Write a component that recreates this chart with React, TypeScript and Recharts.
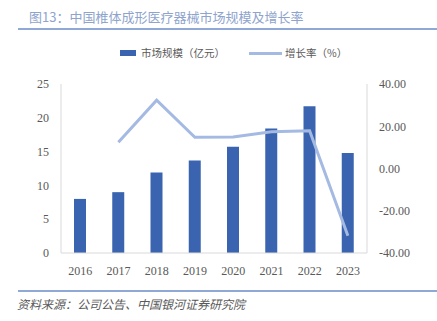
import {
  ComposedChart,
  Bar,
  Line,
  XAxis,
  YAxis,
} from 'recharts'

const BAR_BLUE = '#3A64AF'
const LINE_BLUE = '#A4BAE3'
const AXIS_GRAY = '#D9D9D9'
const TEXT_GRAY = '#595959'
const TITLE_BLUE = '#8EA4CD'

const years = ['2016', '2017', '2018', '2019', '2020', '2021', '2022', '2023']
const marketSize = [8.0, 9.0, 11.9, 13.7, 15.7, 18.4, 21.7, 14.8]
const growthRate = [null, 12.4, 32.3, 14.8, 14.9, 17.4, 17.9, -31.8]
const leftTicks = [0, 5, 10, 15, 20, 25]
const rightTicks = [-40, -20, 0, 20, 40]

const data = years.map((year, i) => ({
  year,
  size: marketSize[i],
  growth: growthRate[i],
}))

const CJK = '"Noto Sans CJK SC", "Noto Sans", sans-serif'
const NUM = '"Liberation Serif", "Times New Roman", serif'

function ChartLegend() {
  return (
    <div
      style={{
        position: 'absolute',
        left: 120,
        top: 46,
        display: 'flex',
        alignItems: 'center',
        fontFamily: CJK,
        fontSize: 10.5,
        color: TEXT_GRAY,
        lineHeight: '14px',
        whiteSpace: 'nowrap',
      }}
    >
      <span style={{ display: 'inline-block', width: 16, height: 6, background: BAR_BLUE, marginRight: 5 }} />
      <span>市场规模（亿元）</span>
      <span
        style={{ display: 'inline-block', width: 33, height: 3, background: LINE_BLUE, marginLeft: 24, marginRight: 3 }}
      />
      <span>增长率（%）</span>
    </div>
  )
}

export default function App() {
  return (
    <div
      style={{
        position: 'absolute',
        left: 0,
        top: 0,
        width: 437,
        height: 321,
        background: '#ffffff',
        overflow: 'hidden',
      }}
    >
      <div
        style={{
          position: 'absolute',
          left: 29,
          top: 8,
          fontFamily: CJK,
          fontSize: 13,
          lineHeight: '18px',
          color: TITLE_BLUE,
          whiteSpace: 'nowrap',
        }}
      >
        图13：中国椎体成形医疗器械市场规模及增长率
      </div>
      <div style={{ position: 'absolute', left: 18, top: 28, width: 419, height: 1.5, background: '#8FA8D6' }} />

      <div style={{ position: 'absolute', left: 0, top: 0 }}>
        <ComposedChart
          width={437}
          height={321}
          data={data}
          margin={{ top: 84, right: 0, bottom: 38, left: 0 }}
        >
          <XAxis
            dataKey="year"
            axisLine={{ stroke: AXIS_GRAY }}
            tickLine={false}
            tickSize={0}
            tickMargin={13}
            height={30}
            tick={{ fontSize: 12, fill: TEXT_GRAY, fontFamily: NUM }}
          />
          <YAxis
            yAxisId="left"
            orientation="left"
            domain={[0, 25]}
            ticks={leftTicks}
            width={61}
            axisLine={{ stroke: AXIS_GRAY }}
            tickLine={false}
            tickSize={0}
            tickMargin={12}
            tick={{ fontSize: 12, fill: TEXT_GRAY, fontFamily: NUM }}
          />
          <YAxis
            yAxisId="right"
            orientation="right"
            domain={[-40, 40]}
            ticks={rightTicks}
            width={70}
            axisLine={{ stroke: AXIS_GRAY }}
            tickLine={false}
            tickSize={0}
            tickMargin={12}
            tickFormatter={(v: number) => v.toFixed(2)}
            tick={{ fontSize: 12, fill: TEXT_GRAY, fontFamily: NUM, textAnchor: 'start' }}
          />
          <Bar
            yAxisId="left"
            dataKey="size"
            fill={BAR_BLUE}
            barSize={12}
            isAnimationActive={false}
          />
          <Line
            yAxisId="right"
            dataKey="growth"
            type="linear"
            stroke={LINE_BLUE}
            strokeWidth={3}
            dot={false}
            activeDot={false}
            isAnimationActive={false}
          />
        </ComposedChart>
      </div>

      <ChartLegend />

      <div style={{ position: 'absolute', left: 18, top: 290, width: 419, height: 1.5, background: '#8FA8D6' }} />
      <div
        style={{
          position: 'absolute',
          left: 17,
          top: 296,
          fontFamily: CJK,
          fontSize: 12,
          lineHeight: '16px',
          fontStyle: 'italic',
          color: TEXT_GRAY,
          whiteSpace: 'nowrap',
        }}
      >
        资料来源：公司公告、中国银河证券研究院
      </div>
    </div>
  )
}
